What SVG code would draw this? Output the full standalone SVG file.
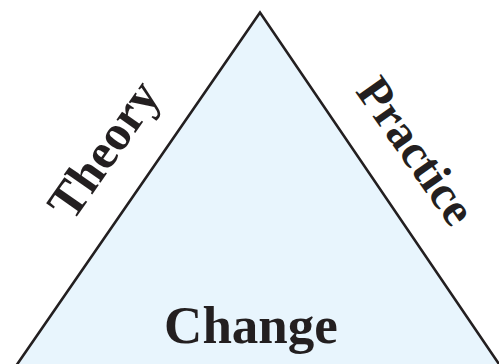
<svg xmlns="http://www.w3.org/2000/svg" width="499" height="364" viewBox="0 0 499 364">
<style>
.lbl{font-family:"Liberation Serif","Times New Roman",serif;font-weight:bold;fill:#231f20;text-anchor:middle}
</style>
<rect width="499" height="364" fill="#ffffff"/>
<g id="triangle">
<polygon points="260,12.5 -2,392 518,392" fill="#e8f5fd" stroke="#231f20" stroke-width="2.6" stroke-linejoin="miter"/>
</g>
<g id="theory"><text class="lbl" font-size="50" transform="translate(117,159) rotate(-55)">Theory</text></g>
<g id="practice"><text class="lbl" font-size="48" transform="translate(403,160) rotate(55)">Practice</text></g>
<g id="change"><text class="lbl" font-size="53" x="251" y="343">Change</text></g>
</svg>
